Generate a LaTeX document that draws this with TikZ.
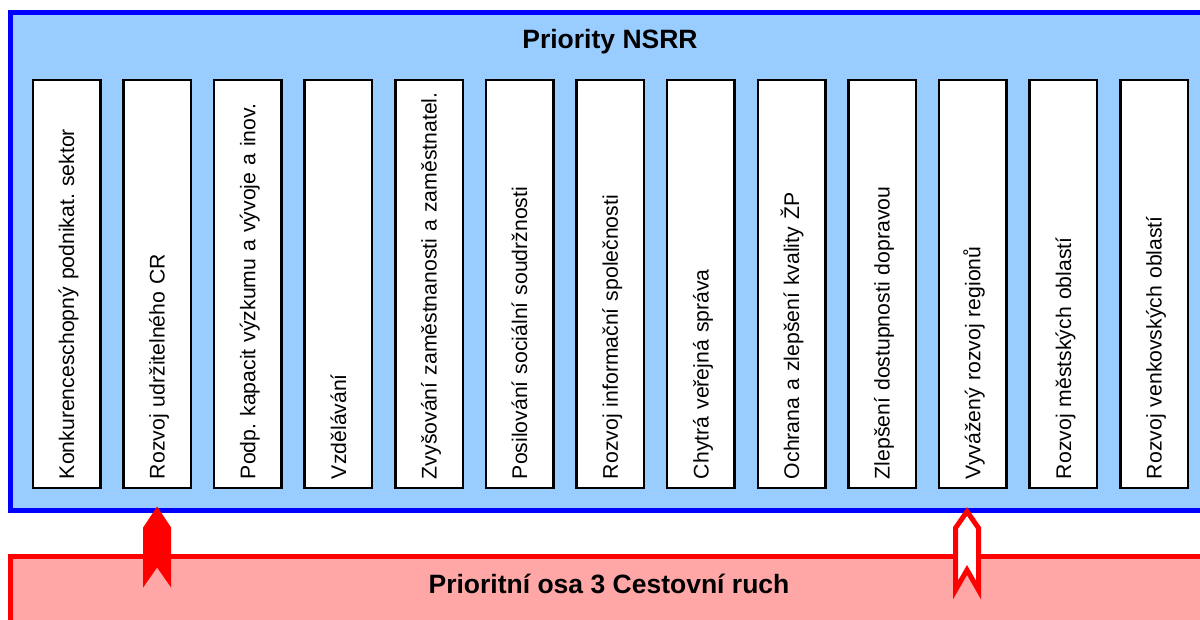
\documentclass[tikz,border=0pt]{standalone}
\usepackage{fontspec}
\setmainfont{Liberation Sans}
\frenchspacing
\usepackage{tikz}
\usetikzlibrary{positioning}
\definecolor{nsrrblue}{RGB}{0,0,255}
\definecolor{nsrrfill}{RGB}{153,204,255}
\definecolor{osared}{RGB}{255,0,0}
\definecolor{osafill}{RGB}{255,166,166}
\tikzset{x=1pt, y=1pt, frame/.style={draw, line width=5pt, outer sep=0pt, inner sep=0pt, minimum width=1205pt},
    prio/.style={draw, line width=2.5pt, fill=white, rotate=90, outer sep=0pt, minimum width=408pt, minimum height=67.5pt, inner xsep=9pt, inner ysep=0pt, text width=390pt, align=left, text height=15.2pt, text depth=0pt, font=\fontsize{21.2}{25}\selectfont},
    heading/.style={inner sep=0pt, text height=19pt, text depth=0pt, font=\bfseries\fontsize{26.5}{30}\selectfont},
    link full/.style={fill=osared}, link empty/.style={draw=osared, fill=white, line width=5pt, miter limit=10}}

\begin{document}
\begin{tikzpicture}
            \useasboundingbox (0,0) rectangle (1200,-619);
            \clip (0,0) rectangle (1200,-619);

            \node[frame, draw=nsrrblue, fill=nsrrfill, minimum height=498.5pt] (nsrr) at (612.5,-261.25) {};
            \node[frame, draw=osared, fill=osafill, minimum height=90pt] (osa) at (612.5,-601.5) {};
            \node[heading] (nsrrtitle) at (610,-39) {Priority NSRR};
            \node[heading] (osatitle) at (609,-583.5) {Prioritní osa 3 Cestovní ruch};

            \node[prio] (p1) at (66.5,-284) {Konkurenceschopný podnikat. sektor};
            \node[prio] (p2) at (157.1,-284) {Rozvoj udržitelného CR};
            \node[prio] (p3) at (247.75,-284) {Podp. kapacit výzkumu a vývoje a inov.};
            \node[prio] (p4) at (338.4,-284) {Vzdělávání};
            \node[prio] (p5) at (429,-284) {Zvyšování zaměstnanosti a zaměstnatel.};
            \node[prio] (p6) at (519.6,-284) {Posilování sociální soudržnosti};
            \node[prio] (p7) at (610.25,-284) {Rozvoj informační společnosti};
            \node[prio] (p8) at (700.9,-284) {Chytrá veřejná správa};
            \node[prio] (p9) at (791.5,-284) {Ochrana a zlepšení kvality ŽP};
            \node[prio] (p10) at (882.1,-284) {Zlepšení dostupnosti dopravou};
            \node[prio] (p11) at (972.75,-284) {Vyvážený rozvoj regionů};
            \node[prio] (p12) at (1063.4,-284) {Rozvoj městských oblastí};
            \node[prio] (p13) at (1154,-284) {Rozvoj venkovských oblastí};

            % links from the axis up to the priorities
            \coordinate (a1) at (p2.center |- nsrr.south);
            \coordinate (a2) at (967,-511.5);
            \fill[link full] ([yshift=4pt]a1) -- ++(14,-21) -- ++(0,-60) -- ++(-14,20) -- ++(-14,-20) -- ++(0,60) -- cycle;
            \draw[link empty] (a2) -- ++(11.5,-16.5) -- ++(0,-62) -- ++(-11.5,20) -- ++(-11.5,-20) -- ++(0,62) -- cycle;
        \end{tikzpicture}
\end{document}
